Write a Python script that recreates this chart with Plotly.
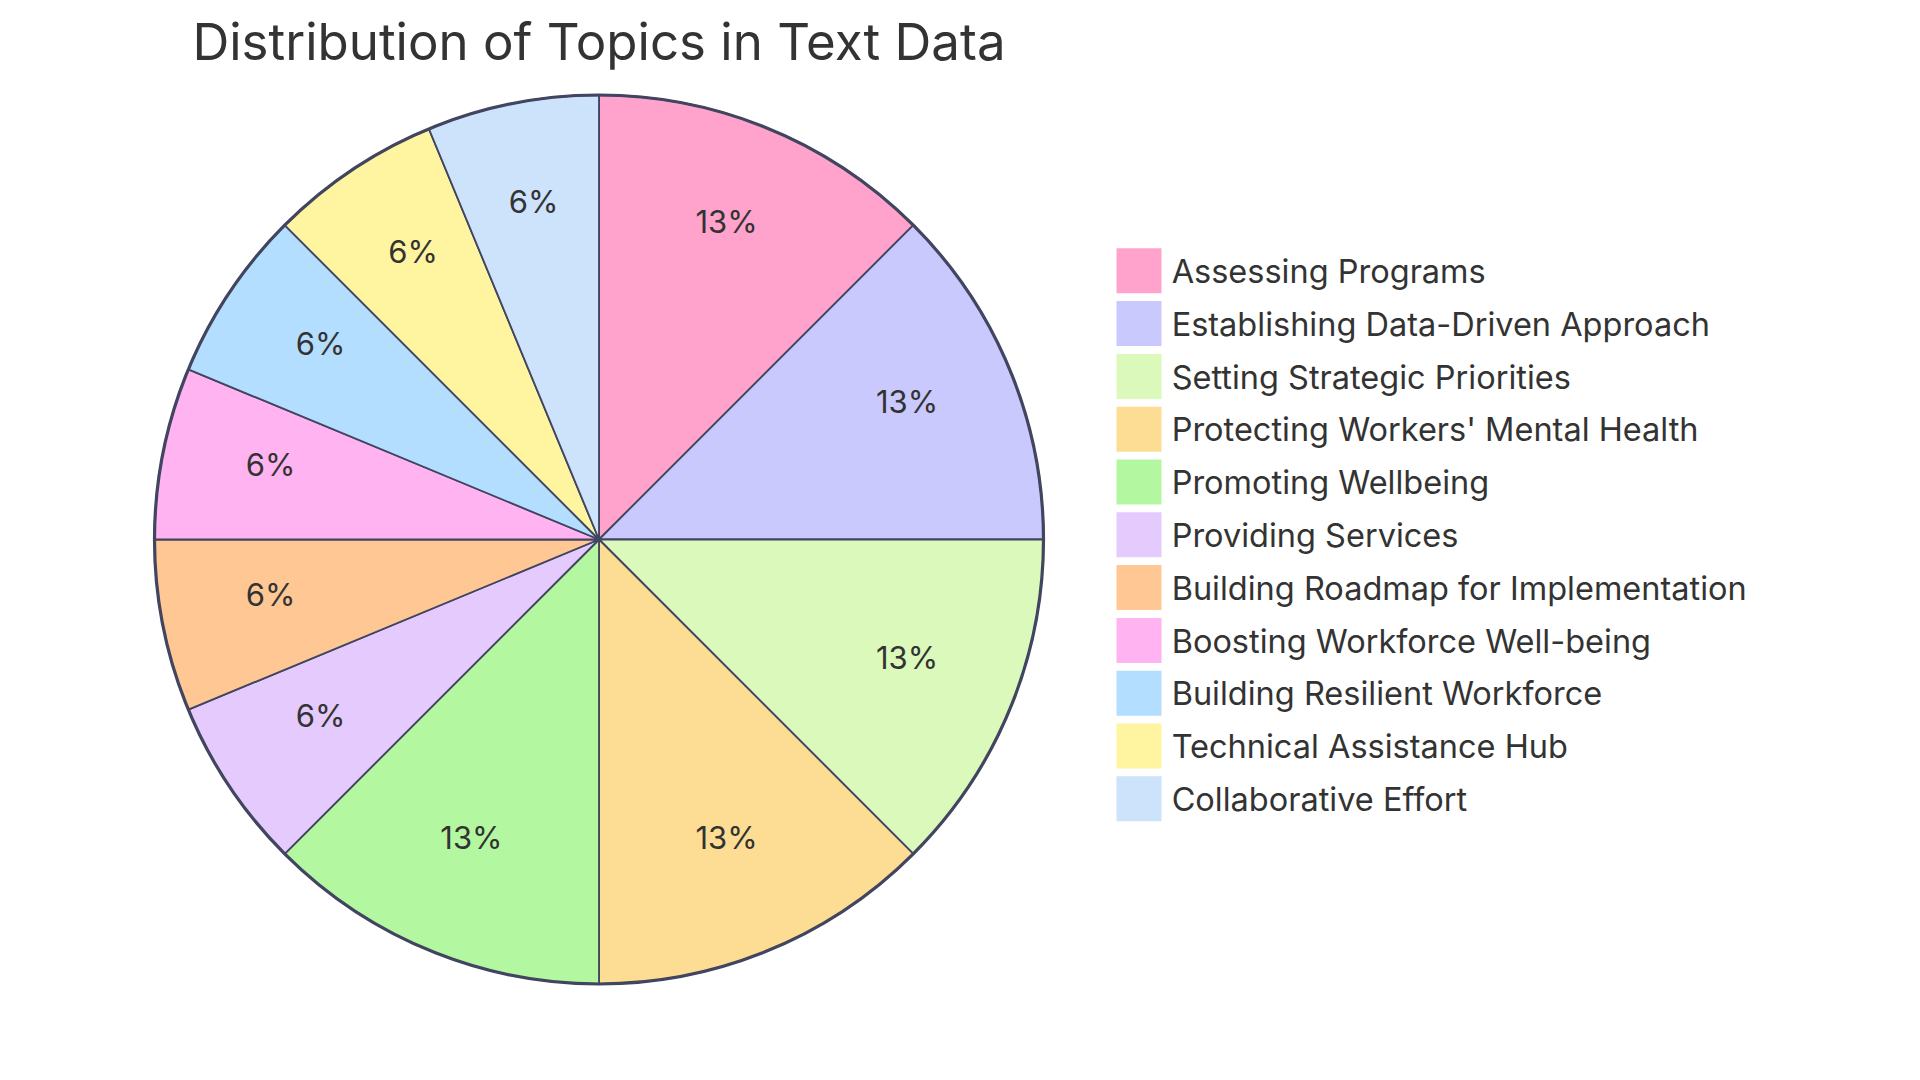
import plotly.graph_objects as go

labels = [
    "Assessing Programs",
    "Establishing Data-Driven Approach",
    "Setting Strategic Priorities",
    "Protecting Workers' Mental Health",
    "Promoting Wellbeing",
    "Providing Services",
    "Building Roadmap for Implementation",
    "Boosting Workforce Well-being",
    "Building Resilient Workforce",
    "Technical Assistance Hub",
    "Collaborative Effort",
]
values = [2, 2, 2, 2, 2, 1, 1, 1, 1, 1, 1]
colors = [
    "#FFA3CC", "#C9C9FD", "#DAF9BA", "#FDDD93", "#B3F8A1", "#E5CAFD",
    "#FEC794", "#FFB3F0", "#B3DEFF", "#FFF4A0", "#CDE2FB",
]
legend_index = list(range(len(labels)))

FONT = "Inter, 'Open Sans', sans-serif"
TXT = "#333333"
EDGE = "#414560"

W, H = 1920, 1080
cx, cy, r = 599, 539.5, 444.5
lift = 10  # labels sit slightly above slice centre, as in the reference


def dom(rad, dy=0.0):
    return dict(x=[(cx - rad) / W, (cx + rad) / W],
                y=[1 - (cy - dy + rad) / H, 1 - (cy - dy - rad) / H])


fig = go.Figure()

# main pie slices
fig.add_trace(go.Pie(
    labels=labels, values=values, sort=False, direction="clockwise", rotation=0,
    marker=dict(colors=colors, line=dict(color=EDGE, width=1.8)),
    textinfo="none", hoverinfo="label+percent", showlegend=False,
    domain=dom(r),
))

# percentage labels: transparent overlays (separate ring for large / small slices)
vmax = max(values)
for is_big, hole, rad in ((True, 0.5, r), (False, 0.3, r * 0.9)):
    tmpl = ["%{percent:.0%}" if (v == vmax) == is_big else "" for v in values]
    fig.add_trace(go.Pie(
        labels=labels, values=values, sort=False, direction="clockwise", rotation=0,
        hole=hole,
        marker=dict(colors=["rgba(0,0,0,0)"] * len(labels), line=dict(width=0)),
        texttemplate=tmpl, textposition="inside",
        insidetextorientation="horizontal",
        textfont=dict(family=FONT, size=31, color=TXT),
        hoverinfo="skip", showlegend=False,
        domain=dom(rad, lift),
    ))

# thicker outer outline
fig.add_trace(go.Pie(
    labels=["outline"], values=[1], sort=False,
    marker=dict(colors=["rgba(0,0,0,0)"], line=dict(color=EDGE, width=3.2)),
    textinfo="none", hoverinfo="skip", showlegend=False,
    domain=dom(r),
))

# legend: coloured squares
fig.add_trace(go.Scatter(
    x=[0] * len(labels), y=legend_index, mode="markers",
    marker=dict(symbol="square", size=45, color=colors, line=dict(width=0)),
    hoverinfo="skip", showlegend=False, cliponaxis=False,
))
# legend: labels (on a slightly offset overlay axis pair)
fig.add_trace(go.Scatter(
    x=[0] * len(labels), y=legend_index, mode="markers+text",
    marker=dict(symbol="square", size=45, color="rgba(0,0,0,0)", line=dict(width=0)),
    text=labels, textposition="middle right",
    textfont=dict(family=FONT, size=32.5, color=TXT),
    hoverinfo="skip", showlegend=False, cliponaxis=False,
    xaxis="x2", yaxis="y2",
))

leg_x0 = 1139
leg_y0 = 270.8
leg_dy = 52.8
txt_dx, txt_dy = 3.5, 4


def yrange(y0):
    return [(H - y0) / leg_dy, -y0 / leg_dy]


fig.update_layout(
    width=W, height=H,
    margin=dict(l=0, r=0, t=0, b=0),
    paper_bgcolor="white", plot_bgcolor="rgba(0,0,0,0)",
    title=dict(text="Distribution of Topics in Text Data",
               x=cx / W, xanchor="center", y=1 - 42 / H, yanchor="middle",
               font=dict(family=FONT, size=51, color=TXT)),
    xaxis=dict(visible=False, range=[-leg_x0, W - leg_x0], domain=[0, 1], fixedrange=True),
    yaxis=dict(visible=False, range=yrange(leg_y0), domain=[0, 1], fixedrange=True),
    xaxis2=dict(visible=False, overlaying="x",
                range=[-(leg_x0 + txt_dx), W - leg_x0 - txt_dx], fixedrange=True),
    yaxis2=dict(visible=False, overlaying="y", range=yrange(leg_y0 + txt_dy),
                fixedrange=True),
    showlegend=False,
)

fig.write_html("out.html")
